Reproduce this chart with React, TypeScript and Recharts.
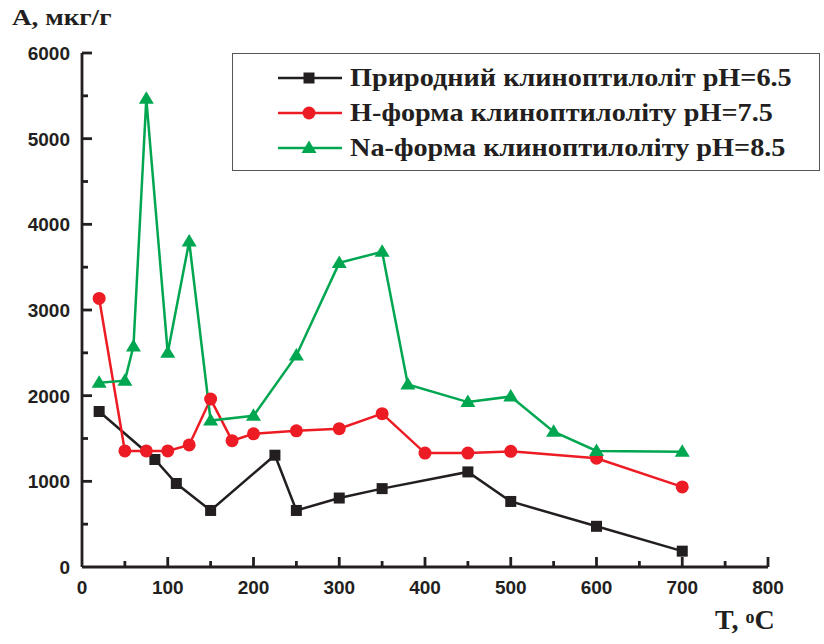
import { LineChart, Line, XAxis, YAxis, Legend } from "recharts";

// temperature (°C) and adsorption (мкг/г) per sample
const tNatural = [20, 85, 110, 150, 225, 250, 300, 350, 450, 500, 600, 700];
const aNatural = [1815, 1255, 975, 660, 1305, 660, 805, 915, 1110, 765, 475, 185];

const tHForm = [20, 50, 75, 100, 125, 150, 175, 200, 250, 300, 350, 400, 450, 500, 600, 700];
const aHForm = [3135, 1355, 1355, 1355, 1425, 1960, 1475, 1555, 1590, 1615, 1790, 1330, 1330, 1350, 1270, 935];

const tNaForm = [20, 50, 60, 75, 100, 125, 150, 200, 250, 300, 350, 380, 450, 500, 550, 600, 700];
const aNaForm = [2150, 2175, 2575, 5465, 2500, 3800, 1710, 1765, 2470, 3550, 3680, 2130, 1925, 1990, 1580, 1355, 1345];

// every 50 / 500 gets a tick mark, only the round ones get a label
const xTicks = [0, 50, 100, 150, 200, 250, 300, 350, 400, 450, 500, 550, 600, 650, 700, 750, 800];
const yTicks = [0, 500, 1000, 1500, 2000, 2500, 3000, 3500, 4000, 4500, 5000, 5500, 6000];

const seriesNames = [
  "Природний клиноптилоліт pH=6.5",
  "H-форма клиноптилоліту pH=7.5",
  "Na-форма клиноптилоліту pH=8.5",
];

const toRows = (xs: number[], ys: number[]) => xs.map((t, i) => ({ t, a: ys[i] }));

const INK = "#231f20";
const COLORS = ["#231f20", "#ed1c24", "#00a650"];
const SERIF = "'Liberation Serif', 'Times New Roman', serif";
const SANS = "'Liberation Sans', Arial, sans-serif";

function Marker({ kind, cx, cy, color }: { kind: number; cx: number; cy: number; color: string }) {
  if (kind === 0) return <rect x={cx - 5.5} y={cy - 5.5} width={11} height={11} fill={color} />;
  if (kind === 1) return <circle cx={cx} cy={cy} r={6.5} fill={color} />;
  return <path d={`M${cx},${cy - 7.5} L${cx + 7.5},${cy + 5} L${cx - 7.5},${cy + 5} Z`} fill={color} />;
}

const dotFor = (kind: number) => (props: any) => {
  const { cx, cy, index } = props;
  if (cx == null || cy == null) return <g key={index} />;
  return <Marker key={index} kind={kind} cx={cx} cy={cy} color={COLORS[kind]} />;
};

// ticks point into the plot; x,y arrive on the axis line (tickSize=0, tickMargin=0)
function XTick(props: any) {
  const { x, y, payload } = props;
  const major = payload.value % 100 === 0;
  return (
    <g>
      {payload.value > 0 && (
        <line x1={x} y1={y} x2={x} y2={y - (major ? 10 : 6)} stroke={INK} strokeWidth={2.8} />
      )}
      {major && (
        <text x={x} y={y + 27} textAnchor="middle" fontFamily={SANS} fontWeight="bold" fontSize={19} fill={INK}>
          {payload.value}
        </text>
      )}
    </g>
  );
}

function YTick(props: any) {
  const { x, y, payload } = props;
  const major = payload.value % 1000 === 0;
  return (
    <g>
      {payload.value > 0 && (
        <line x1={x} y1={y} x2={x + (major ? 10 : 6)} y2={y} stroke={INK} strokeWidth={2.8} />
      )}
      {major && (
        <text x={x - 12} y={y + 7} textAnchor="end" fontFamily={SANS} fontWeight="bold" fontSize={19} fill={INK}>
          {payload.value}
        </text>
      )}
    </g>
  );
}

function LegendBox() {
  return (
    <div
      style={{
        boxSizing: "border-box",
        width: 588,
        height: 118,
        border: "1.5px solid #555",
        padding: "6px 0 0 45px",
        fontFamily: SERIF,
        fontWeight: "bold",
        fontSize: 25,
        color: INK,
        background: "#fff",
      }}
    >
      {seriesNames.map((name, i) => (
        <div key={name} style={{ display: "flex", alignItems: "center", height: 35, whiteSpace: "nowrap" }}>
          <svg width={64} height={20} style={{ marginRight: 8, flex: "none" }}>
            <line x1={0} y1={10} x2={64} y2={10} stroke={COLORS[i]} strokeWidth={2.5} />
            <Marker kind={i} cx={31} cy={10} color={COLORS[i]} />
          </svg>
          <span style={{ display: "inline-block", transform: "scaleX(1.13)", transformOrigin: "left center" }}>
            {name}
          </span>
        </div>
      ))}
    </div>
  );
}

export default function App() {
  return (
    <div style={{ position: "relative", width: 824, height: 644, background: "#fff" }}>
      <style>{"body{margin:0}"}</style>
      <LineChart width={824} height={644} margin={{ top: 53, right: 56, bottom: 37, left: 12 }}>
        <XAxis
          type="number"
          dataKey="t"
          domain={[0, 800]}
          ticks={xTicks}
          interval={0}
          height={40}
          tickSize={0}
          tickMargin={0}
          tickLine={false}
          tick={<XTick />}
          axisLine={{ stroke: INK, strokeWidth: 2.8 }}
        />
        <YAxis
          type="number"
          dataKey="a"
          domain={[0, 6000]}
          ticks={yTicks}
          interval={0}
          width={70}
          tickSize={0}
          tickMargin={0}
          tickLine={false}
          tick={<YTick />}
          axisLine={{ stroke: INK, strokeWidth: 2.8 }}
        />
        <Legend
          layout="vertical"
          align="center"
          verticalAlign="middle"
          content={() => <LegendBox />}
          wrapperStyle={{ left: 232, top: 53, width: 588 }}
        />
        <Line
          data={toRows(tNatural, aNatural)}
          dataKey="a"
          name={seriesNames[0]}
          stroke={COLORS[0]}
          strokeWidth={2.5}
          dot={dotFor(0)}
          activeDot={false}
          isAnimationActive={false}
        />
        <Line
          data={toRows(tHForm, aHForm)}
          dataKey="a"
          name={seriesNames[1]}
          stroke={COLORS[1]}
          strokeWidth={2.5}
          dot={dotFor(1)}
          activeDot={false}
          isAnimationActive={false}
        />
        <Line
          data={toRows(tNaForm, aNaForm)}
          dataKey="a"
          name={seriesNames[2]}
          stroke={COLORS[2]}
          strokeWidth={2.5}
          dot={dotFor(2)}
          activeDot={false}
          isAnimationActive={false}
        />
      </LineChart>
      <div
        style={{
          position: "absolute",
          left: 12,
          top: 5,
          fontFamily: SERIF,
          fontWeight: "bold",
          fontSize: 23,
          color: INK,
          transform: "scaleX(1.18)",
          transformOrigin: "left top",
        }}
      >
        А, мкг/г
      </div>
      <div
        style={{
          position: "absolute",
          left: 715,
          top: 604,
          fontFamily: SERIF,
          fontWeight: "bold",
          fontSize: 28,
          color: INK,
        }}
      >
        T, <sup style={{ fontSize: 18, verticalAlign: 6 }}>o</sup>C
      </div>
    </div>
  );
}
